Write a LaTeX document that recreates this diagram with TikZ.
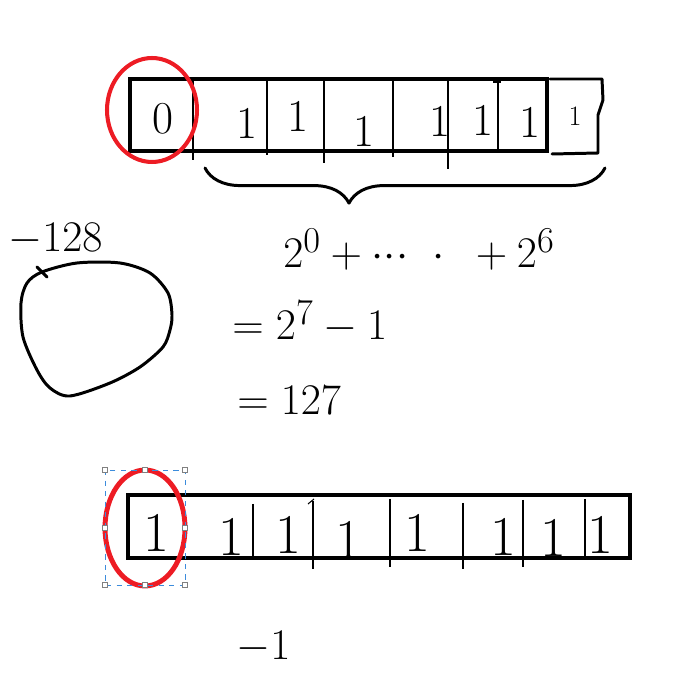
\documentclass[tikz,border=0pt]{standalone}
\usepackage{amsmath}
\usepackage{tikz}
\usetikzlibrary{decorations.pathreplacing}
\usetikzlibrary{calc}
\tikzstyle{bitbox} = [line width=2.8pt]
\tikzstyle{cell} = [line width=0.6pt]
\tikzstyle{pen} = [line width=1.7pt, line cap=round, line join=round]
\tikzstyle{bit} = [inner sep=0pt, font=\fontsize{26}{30}\selectfont]
\tikzstyle{bigbit} = [inner sep=0pt, font=\fontsize{32}{36}\selectfont]
\tikzstyle{sum} = [inner sep=0pt, anchor=base west, font=\fontsize{30}{36}\selectfont]
\tikzstyle{handle} = [draw=gray, fill=white, line width=0.4pt, minimum size=3pt, inner sep=0pt]
\definecolor{markred}{HTML}{ED1C24}
\definecolor{selblue}{HTML}{3C8CDC}

\begin{document}
\begin{tikzpicture}[x=0.02cm,y=-0.02cm]
\useasboundingbox (0,0) rectangle (694,675);
% top byte: 0 1111111
\draw[bitbox] (130,79) rectangle (547,151);
\foreach \x/\b in {193/160,267/155,324/163,393/157,448/169,498/151}
  \draw[cell] (\x,79) -- (\x,\b);
\draw[cell] (493,82) -- (501,82);
\draw[pen] (550,79) -- (602,79) -- (603,100) -- (598,115) -- (598,153) -- (552,154);
\node[bit] (t0) at (163,119) {0};
\foreach \x/\y [count=\i] in {247/123,298/116,364/131,440/121,483/120,530/122}
  \node[bit] (t\i) at (\x,\y) {1};
\node[inner sep=0pt, font=\fontsize{16}{18}\selectfont] (t7) at (575,116) {1};
\draw[markred, line width=2.3pt] (152,110) ellipse [x radius=0.9cm, y radius=1.04cm];
% brace under the ones
\coordinate (bl) at (205,168);
\coordinate (br) at (605,168);
\draw[pen, decorate, decoration={brace, mirror, amplitude=20pt, aspect=0.36}] (bl) -- (br);
\node[sum] (s1) at (283,268) {$2^{0}+{\cdot}{\cdot}{\cdot}\hspace{14pt}{\cdot}\hspace{12pt}+2^{6}$};
\node[sum] (s2) at (232,340) {$=2^{7}-1$};
\node[sum] (s3) at (237,415) {$=127$};
% number ring
\draw[pen] plot[smooth cycle] coordinates {(42,272) (77,263) (120,263) (150,273) (168,293) (172,315) (170,330) (163,347) (140,367) (110,383) (70,396) (50,388) (37,370) (23,337) (21,303) (27,283)};
\coordinate (top) at (42,272);
\draw[pen] ($(top)+(-5,-5)$) -- ($(top)+(5,5)$);
\node[sum, font=\fontsize{26}{30}\selectfont] (m128) at (8,252) {$-128$};
% bottom byte: 1 1111111
\draw[bitbox] (128,495) rectangle (630,558);
\foreach \x/\a/\b in {253/504/558,313/501/569,390/499/567,463/503/569,523/500/567,585/499/558}
  \draw[cell] (\x,\a) -- (\x,\b);
\draw[cell] (308,504) -- (314,499);
\node[bigbit] (b0) at (156,533) {1};
\foreach \x/\y [count=\i] in {231/537,288/535,348/540,417/533,503/537,553/538,600/535}
  \node[bigbit] (b\i) at (\x,\y) {1};
\draw[markred, line width=2.8pt] (145,528) ellipse [x radius=0.8cm, y radius=1.16cm];
\draw[selblue, dashed, line width=0.5pt] (105,470) rectangle (185,585);
\foreach \x/\y [count=\i] in {105/470,145/470,185/470,105/528,185/528,105/585,145/585,185/585}
  \node[handle] (h\i) at (\x,\y) {};
\node[sum, font=\fontsize{36}{40}\selectfont] (m1) at (236,660) {$-1$};
\end{tikzpicture}
\end{document}
